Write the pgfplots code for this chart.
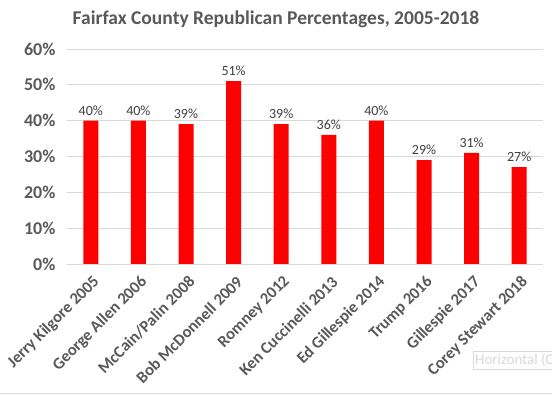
\documentclass[border=0pt]{standalone}
\usepackage{fontspec}
\setmainfont{Carlito}
\usepackage{pgfplots}
\pgfplotsset{compat=1.18}
\definecolor{txt}{HTML}{595959}
\definecolor{lbl}{HTML}{404040}
\definecolor{gridc}{HTML}{D9D9D9}
\begin{document}
\begin{tikzpicture}[x=1pt,y=1pt]
\clip (0,0) rectangle (552,395);
\fill[white] (0,0) rectangle (552,395);
\draw[gridc,line width=1pt] (0,1.2) -- (552,1.2);
\node[font=\fontsize{19.5}{21}\selectfont\bfseries, text=txt] at (276,376) {Fairfax County Republican Percentages, 2005-2018};
\begin{axis}[
  at={(67pt,131pt)}, anchor=south west,
  scale only axis, width=476pt, height=215pt,
  xmin=-0.5, xmax=9.5, ymin=0, ymax=60,
  ytick={0,10,...,60},
  yticklabel={\pgfmathprintnumber{\tick}\%},
  /pgf/number format/assume math mode=true,
  xtick={0,...,9},
  xticklabels={Jerry Kilgore 2005, George Allen 2006, McCain/Palin 2008, Bob McDonnell 2009, Romney 2012, Ken Cuccinelli 2013, Ed Gillespie 2014, Trump 2016, Gillespie 2017, Corey Stewart 2018},
  xticklabel style={rotate=45, anchor=east, font=\fontsize{16.5}{18}\selectfont\bfseries, text=txt, xshift=-3pt, yshift=-15pt},
  yticklabel style={font=\fontsize{18}{20}\selectfont\bfseries, text=txt, xshift=-8pt},
  major tick length=0pt,
  axis line style={draw=none},
  xmajorgrids=false,
  ymajorgrids, grid style={draw=gridc, line width=0.8pt},
  ybar, bar width=15pt,
  nodes near coords={\pgfmathprintnumber{\pgfplotspointmeta}\%},
  nodes near coords style={font=\fontsize{14}{16}\selectfont, text=lbl, yshift=2pt},
  enlarge x limits=false,
]
\addplot[fill=red, draw=none] coordinates {(0,40) (1,40) (2,39) (3,51) (4,39) (5,36) (6,40) (7,29) (8,31) (9,27)};
\draw[gridc, line width=0.8pt] (axis cs:-0.5,0) -- (axis cs:9.5,0);
\end{axis}
\node[draw=gridc, fill=white, text=gridc, font=\fontsize{15}{17}\selectfont, anchor=north west, inner sep=2pt, minimum height=18pt] at (473,44) {Horizontal (Category) Axis};
\end{tikzpicture}
\end{document}
